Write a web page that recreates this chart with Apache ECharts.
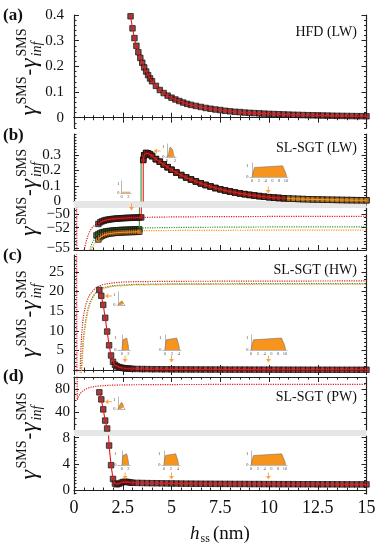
<!DOCTYPE html>
<html><head><meta charset="utf-8">
<script src="https://cdn.jsdelivr.net/npm/echarts@6/dist/echarts.min.js"></script>
<style>html,body{margin:0;padding:0;background:#fff}#c{width:377px;height:550px}</style>
</head><body><div id="c"></div>
<script>
// ================= DATA =================
// x axis
const xTicks = [0, 2.5, 5, 7.5, 10, 12.5, 15];
// y tick labels per segment
const ticksA  = [0, 0.1, 0.2, 0.3, 0.4];
const ticksBu = [0, 0.1, 0.2, 0.3];
const ticksBl = [-50, -52, -55];
const ticksC  = [0, 5, 10, 15, 20, 25];
const ticksDu = [40, 80];
const ticksDl = [0, 4, 8];

// (a) HFD (LW)
const hA = [2.8,2.9,3.0,3.1,3.2,3.3,3.4,3.5,3.6,3.7,3.8,3.9,4.0,4.2,4.4,4.6,4.8,5.0,5.2,5.4,5.6,5.8,6.0,
  6.25,6.5,6.75,7.0,7.25,7.5,7.75,8.0,8.25,8.5,8.75,9.0,9.25,9.5,9.75,10.0,10.25,10.5,10.75,11.0,11.25,11.5,11.75,12.0,12.25,12.5,12.75,13.0,13.25,13.5,13.75,14.0,14.25,14.5,14.75,15.0];
const gA = [0.44,0.395,0.348,0.31,0.28,0.255,0.233,0.214,0.196,0.180,0.166,0.153,0.142,0.124,0.108,0.096,0.086,0.078,0.071,0.065,0.059,0.054,0.050,
  0.046,0.042,0.038,0.035,0.032,0.030,0.027,0.025,0.023,0.022,0.020,0.019,0.018,0.017,0.016,0.015,0.0143,0.0136,0.0128,0.0121,0.0115,0.011,0.0104,0.0099,0.0094,0.009,0.0086,0.0082,0.0078,0.0074,0.0071,0.0068,0.0065,0.0062,0.006,0.0057];

// (b) SL-SGT (LW): lower branches
const hBr = [1.25,1.35,1.45,1.55,1.65,1.75,1.85,1.95,2.05,2.15,2.25,2.35,2.45,2.55,2.65,2.75,2.85,2.95,3.05,3.15,3.25,3.35,3.45];
const gBr = [-51.45,-51.2,-51.05,-50.95,-50.87,-50.82,-50.77,-50.73,-50.7,-50.67,-50.65,-50.63,-50.61,-50.59,-50.58,-50.56,-50.55,-50.54,-50.53,-50.52,-50.51,-50.5,-50.49];
const hBg = [1.15,1.25,1.35,1.45,1.55,1.65,1.75,1.85,1.95,2.05,2.15,2.25,2.35,2.45,2.55,2.65,2.75,2.85,2.95,3.05,3.15,3.25,3.35];
const gBg = [-53.15,-52.95,-52.8,-52.7,-52.62,-52.56,-52.52,-52.48,-52.45,-52.42,-52.4,-52.38,-52.36,-52.34,-52.33,-52.32,-52.31,-52.3,-52.29,-52.28,-52.27,-52.26,-52.25];
const hBo = [1.25,1.35,1.45,1.55,1.65,1.75,1.85,1.95,2.05,2.15,2.25,2.35,2.45,2.55,2.65,2.75,2.85,2.95,3.05,3.15,3.25,3.35];
const gBo = [-53.75,-53.4,-53.2,-53.07,-52.98,-52.91,-52.86,-52.82,-52.79,-52.76,-52.74,-52.72,-52.7,-52.68,-52.67,-52.66,-52.65,-52.64,-52.63,-52.62,-52.61,-52.6];
// jumps between branches
const jumpRh = [3.55], jumpRg = [-50.48];
const jumpGh = [3.44, 3.44], jumpGg = [-52.25, 0.265];
// (b) upper branch (shared)
const hBu = [3.55,3.6,3.7,3.8,3.9,4.0,4.2,4.4,4.6,4.8,5.0,5.25,5.5,5.75,6.0,6.25,6.5,6.75,7.0,7.25,7.5,7.75,8.0,8.25,8.5,8.75,9.0,9.25,9.5,9.75,10.0,10.25,10.5,10.75,
  11.0,11.25,11.5,11.75,12.0,12.25,12.5,12.75,13.0,13.25,13.5,13.75,14.0,14.25,14.5,14.75,15.0];
const gBu = [0.27,0.30,0.315,0.312,0.305,0.295,0.275,0.258,0.24,0.222,0.205,0.187,0.17,0.155,0.141,0.128,0.116,0.105,0.095,0.085,0.077,0.069,0.062,0.056,0.05,0.045,0.04,0.036,0.032,0.028,0.025,0.022,0.02,0.018,
  0.016,0.0148,0.0136,0.0125,0.0115,0.0106,0.0098,0.009,0.0083,0.0077,0.0071,0.0066,0.0061,0.0057,0.0053,0.005,0.0047];
const redUpperEnd = 10.75;
// (b) dotted curves
const hBrd = [0.13,0.15,0.45,0.5,0.6,0.7,0.8,0.9,1.0,1.2,1.4,1.7,2.0,2.5,3.0,3.5,4.0,5.0,7.0,10.0,15.0];
const gBrd = [-40,-62,-58,-55.6,-54.3,-53.3,-52.6,-52.1,-51.8,-51.4,-51.15,-50.92,-50.78,-50.64,-50.55,-50.5,-50.46,-50.42,-50.38,-50.35,-50.32];
const hBgd = [0.7,0.8,0.9,1.0,1.2,1.4,1.7,2.0,2.5,3.0,3.5,5.0,7.5,10.0,15.0];
const gBgd = [-57,-55.5,-54.5,-53.9,-53.2,-52.85,-52.55,-52.35,-52.2,-52.1,-52.05,-51.98,-51.93,-51.9,-51.87];
const hBod = [0.75,0.85,1.0,1.2,1.4,1.7,2.0,2.5,3.0,3.5,5.0,10.0,15.0];
const gBod = [-57,-55.6,-54.6,-53.8,-53.35,-53.0,-52.8,-52.65,-52.55,-52.45,-52.42,-52.37,-52.35];

// (c) SL-SGT (HW)
const hC = [1.3,1.4,1.5,1.6,1.7,1.8,1.9,2.0,2.1,2.2,2.3,2.4,2.5,2.6,2.7,2.8,2.9,3.0,
  3.25,3.5,3.75,4.0,4.25,4.5,4.75,5.0,5.25,5.5,5.75,6.0,6.25,6.5,6.75,7.0,7.25,7.5,7.75,8.0,8.25,8.5,8.75,9.0,9.25,9.5,9.75,10.0,
  10.25,10.5,10.75,11.0,11.25,11.5,11.75,12.0,12.25,12.5,12.75,13.0,13.25,13.5,13.75,14.0,14.25,14.5,14.75,15.0];
const gC = [20.4,18.9,16.6,13.3,9.8,6.3,3.7,2.1,1.35,0.95,0.75,0.62,0.52,0.45,0.4,0.36,0.33,0.3,
  0.27,0.25,0.23,0.21,0.2,0.19,0.18,0.17,0.16,0.155,0.15,0.145,0.14,0.135,0.13,0.125,0.12,0.118,0.115,0.112,0.11,0.107,0.105,0.103,0.1,0.098,0.096,0.094,
  0.092,0.09,0.088,0.087,0.085,0.084,0.082,0.081,0.08,0.078,0.077,0.076,0.075,0.074,0.073,0.072,0.071,0.07,0.069,0.068];
const hCrd = [0.13,0.15,0.3,0.33,0.36,0.4,0.45,0.5,0.6,0.7,0.8,1.0,1.2,1.5,2.0,2.5,3.0,5.0,10.0,15.0];
const gCrd = [40,-3,-3,2,6,9.5,12.3,14.2,16.5,18.0,19.1,20.4,21.2,21.8,22.2,22.4,22.5,22.6,22.65,22.7];
const hCgd = [0.35,0.4,0.45,0.5,0.6,0.7,0.8,1.0,1.2,1.5,2.0,3.0,5.0,10.0,15.0];
const gCgd = [-2,2,6,9,12.8,15.3,17,19,20.2,21,21.5,21.8,21.95,22.0,22.0];
const hCod = [0.37,0.42,0.47,0.52,0.62,0.72,0.82,1.0,1.2,1.5,2.0,3.0,5.0,10.0,15.0];
const gCod = [-2,2,6,9,12.6,15.1,16.8,18.8,20.0,20.8,21.3,21.65,21.8,21.85,21.85];

// (d) SL-SGT (PW)
const hD = [1.3,1.4,1.5,1.6,1.7,1.8,1.9,2.0,2.1,2.2,2.3,2.4,2.5,2.6,2.7,2.8,2.9,3.0,
  3.25,3.5,3.75,4.0,4.25,4.5,4.75,5.0,5.25,5.5,5.75,6.0,6.25,6.5,6.75,7.0,7.25,7.5,7.75,8.0,8.25,8.5,8.75,9.0,9.25,9.5,9.75,10.0,
  10.25,10.5,10.75,11.0,11.25,11.5,11.75,12.0,12.25,12.5,12.75,13.0,13.25,13.5,13.75,14.0,14.25,14.5,14.75,15.0];
const gD = [74,62,45,26,12.5,6.8,3.8,1.7,1.0,0.88,0.95,1.1,1.22,1.27,1.25,1.2,1.15,1.12,
  1.1,1.08,1.06,1.05,1.04,1.03,1.02,1.01,1.0,0.99,0.98,0.98,0.97,0.97,0.96,0.96,0.95,0.95,0.94,0.94,0.93,0.93,0.93,0.92,0.92,0.92,0.91,0.91,
  0.91,0.9,0.9,0.9,0.9,0.89,0.89,0.89,0.89,0.88,0.88,0.88,0.88,0.88,0.87,0.87,0.87,0.87,0.87,0.87];
const hDrd = [0.15,0.17,0.22,0.3,0.4,0.55,0.7,0.9,1.2,1.6,2.0,3.0,5.0,10.0,15.0];
const gDrd = [130,61,66,71,75,78.5,81,83,84.5,85.5,86.2,86.8,87.2,87.5,87.6];

// orange arrows (h, value) per panel
const arrowsBdown = [[2.95, -48.95]];
const arrowsBupDown = [[9.96, 0.072]];
const arrowsBleft = [[4.26, 0.329]];
const arrowsCleft = [[1.76, 18.86]];
const arrowsCdown = [[2.62, 2.81], [5.0, 2.81], [9.97, 2.81]];
const arrowsDleft = [[1.76, 58]];
const arrowsDdown = [[2.62, 2.15], [5.0, 2.15], [9.97, 2.15]];

// inset profiles
const flatX = [0, 2.6], flatY = [0.08, 0.08];
const bellX = [0,0.2,0.4,0.6,0.8,1.0,1.2,1.4,1.6,1.8,2.0];
const bellBigY = [0,0.04,0.25,0.7,0.97,1.0,0.97,0.7,0.25,0.04,0];
const bellSmallY = [0,0.02,0.1,0.28,0.39,0.4,0.39,0.28,0.1,0.02,0];
const bellMidY = [0,0.03,0.17,0.49,0.68,0.7,0.68,0.49,0.17,0.03,0];
const trap2X = [0,0.15,0.35,0.6,1.5,1.75,1.95,2.1];
const trap4X = [0,0.2,0.45,0.8,3.4,3.75,4.0,4.2];
const trap10X = [0,0.3,0.7,1.2,9.0,9.5,9.9,10.2];
const trapY = [0,0.4,0.85,1,1,0.85,0.4,0];
const insetTicks2 = [0, 2], insetTicks4 = [0, 2, 4], insetTicks10 = [0, 2, 4, 6, 8, 10];

// ================= STYLE / LAYOUT =================
const RED = '#e3191c', GREEN = '#2a9a2e', ORANGE = '#f7941d';
const MK = {}; MK[RED] = '#7a1818'; MK[GREEN] = '#1f5a24'; MK[ORANGE] = '#c9761a';
const FF = 'Liberation Serif';
const FONT = '"Liberation Serif", serif';
const L = 74, RIGHT = 10.5, PLOT_R = 377 - RIGHT;

// 'split' puts every second label on a second (overlaid) axis so close labels are not auto-hidden
const GRID_DEFS = [
  {top: 15,  height: 113, ymin: -0.04, ymax: 0.4,  major: ticksA,  minor: 0.02, lm: 10, topAx: true,  botAx: true},
  {top: 134, height: 67,  ymin: 0,     ymax: 0.44, major: ticksBu, minor: 0.02, lm: 13, topAx: true,  botAx: false},
  {top: 208, height: 42,  ymin: -55.3, ymax: -49.1, major: ticksBl, minor: 0.5, lm: 4,  topAx: false, botAx: true, split: true},
  {top: 255, height: 117, ymin: -0.5,  ymax: 29.3, major: ticksC,  minor: 1,    lm: 10, topAx: true,  botAx: true},
  {top: 377, height: 53,  ymin: 10,    ymax: 100,  major: ticksDu, minor: 10,   lm: 4,  topAx: true,  botAx: false},
  {top: 436, height: 58,  ymin: -0.6,  ymax: 8.26, major: ticksDl, minor: 0.5,  lm: 4,  topAx: false, botAx: true, labelsX: true}
];

function seq(a, b, s) { const r = []; const n = Math.round((b - a) / s); for (let i = 0; i <= n; i++) r.push(+(a + i * s).toFixed(6)); return r; }
function minorVals(min, max, s) { return seq(Math.ceil(min / s - 1e-9) * s, Math.floor(max / s + 1e-9) * s, s); }
function fmt(v) { return v < 0 ? '\u2212' + Math.abs(v) : String(v); }
function zip(xs, ys) { return xs.map((x, i) => [x, ys[i]]); }

const grid = [], xAxis = [], yAxis = [], series = [], graphic = [];
const AX = [];
const LC = '#222';

GRID_DEFS.forEach((d, i) => {
  grid.push({left: L, right: RIGHT, top: d.top, height: d.height, containLabel: false, outerBoundsMode: 'none'});
  const xi = xAxis.length;
  xAxis.push({type: 'value', gridIndex: i, min: 0, max: 15, interval: 2.5, position: 'bottom',
    axisLine: {show: d.botAx, lineStyle: {color: LC, width: 1.2}},
    axisTick: {show: d.botAx, inside: true, length: 5, lineStyle: {color: LC}},
    minorTick: {show: d.botAx, splitNumber: 5, length: 2.5, lineStyle: {color: LC}},
    axisLabel: {show: !!d.labelsX, margin: 5, fontFamily: FF, fontSize: 18, color: '#111', hideOverlap: false,
      showMinLabel: true, showMaxLabel: true, formatter: v => String(v)},
    splitLine: {show: false}, minorSplitLine: {show: false}});
  if (d.topAx) xAxis.push({type: 'value', gridIndex: i, min: 0, max: 15, interval: 2.5, position: 'top',
    axisLine: {show: true, lineStyle: {color: LC, width: 1.2}},
    axisTick: {show: true, inside: true, length: 5, lineStyle: {color: LC}},
    minorTick: {show: true, splitNumber: 5, length: 2.5, lineStyle: {color: LC}},
    axisLabel: {show: false}, splitLine: {show: false}});
  const yi = yAxis.length;
  const minors = minorVals(d.ymin, d.ymax, d.minor);
  const lab1 = d.split ? d.major.filter((v, k) => k % 2 === 0) : d.major;
  const lab2 = d.split ? d.major.filter((v, k) => k % 2 === 1) : [];
  const labStyle = {formatter: fmt, margin: d.lm, fontFamily: FF, fontSize: 15, color: '#111', hideOverlap: false, showMinLabel: true, showMaxLabel: true};
  ['left', 'right'].forEach(pos => {
    yAxis.push({type: 'value', gridIndex: i, min: d.ymin, max: d.ymax, position: pos,
      axisLine: {show: true, lineStyle: {color: LC, width: 1.2}},
      axisTick: {show: true, inside: true, length: 5, customValues: d.major, lineStyle: {color: LC}},
      axisLabel: Object.assign({show: pos === 'left', customValues: lab1}, labStyle),
      splitLine: {show: false}});
    yAxis.push({type: 'value', gridIndex: i, min: d.ymin, max: d.ymax, position: pos,
      axisLine: {show: false},
      axisTick: {show: true, inside: true, length: 2.5, customValues: minors, lineStyle: {color: LC}},
      axisLabel: Object.assign({show: pos === 'left' && lab2.length > 0, customValues: lab2.length ? lab2 : [d.ymin]}, labStyle),
      splitLine: {show: false}});
  });
  AX.push({x: xi, y: yi});
});

let zc = 3;
function addLine(gi, data, color, dotted, width) {
  series.push({type: 'line', xAxisIndex: AX[gi].x, yAxisIndex: AX[gi].y, data: data, showSymbol: false, symbol: 'none',
    lineStyle: {color: color, width: width || (dotted ? 1.2 : 1.1), type: dotted ? 'dotted' : 'solid'},
    clip: true, silent: true, animation: false, z: zc++});
}
function addMarks(gi, data, color) {
  series.push({type: 'scatter', xAxisIndex: AX[gi].x, yAxisIndex: AX[gi].y, data: data, symbol: 'rect', symbolSize: 5.5,
    itemStyle: {color: MK[color], borderColor: 'rgba(20,20,20,0.9)', borderWidth: 1},
    clip: true, silent: true, animation: false, z: zc++});
}
function addMarked(gis, data, color, markData) {
  gis.forEach(g => { addMarks(g, markData || data, color); addLine(g, data, color, false); });
}
const ARROW = 'path://M4,0 L6,0 L6,6 L10,6 L5,12 L0,6 L4,6 Z';
function addArrows(gi, data, rot) {
  series.push({type: 'scatter', xAxisIndex: AX[gi].x, yAxisIndex: AX[gi].y, data: data, symbol: ARROW, symbolSize: [5, 7],
    symbolRotate: rot, itemStyle: {color: ORANGE}, clip: false, silent: true, animation: false, z: 40});
}

// (a)
addMarked([0], zip(hA, gA), RED);

// (b)
const gisB = [1, 2];
gisB.forEach(g => {
  addLine(g, zip(hBrd, gBrd), RED, true);
  addLine(g, zip(hBgd, gBgd), GREEN, true);
  addLine(g, zip(hBod, gBod), ORANGE, true);
});
const upperAll = zip(hBu, gBu);
const upperRed = upperAll.filter(p => p[0] <= redUpperEnd);
const greenAll = zip(hBg, gBg).concat(zip(jumpGh, jumpGg), upperAll);
const redAll = zip(hBr, gBr).concat(zip(jumpRh, jumpRg), upperRed);
addMarked(gisB, greenAll, GREEN, zip(hBg, gBg).concat(upperAll));
addMarked(gisB, zip(hBo, gBo), ORANGE);
addMarked(gisB, upperAll, ORANGE);
addMarked(gisB, redAll, RED, zip(hBr, gBr).concat(upperRed));

// (c)
addLine(3, zip(hCrd, gCrd), RED, true);
addLine(3, zip(hCgd, gCgd), GREEN, true);
addLine(3, zip(hCod, gCod), ORANGE, true);
addMarked([3], zip(hC, gC), RED);

// (d)
[4, 5].forEach(g => addLine(g, zip(hDrd, gDrd), RED, true));
addMarked([4, 5], zip(hD, gD), RED);

// arrows (down symbol; -90 rotates to point left)
addArrows(2, arrowsBdown, 0);
addArrows(1, arrowsBupDown, 0);
addArrows(1, arrowsBleft, -90);
addArrows(3, arrowsCleft, -90);
addArrows(3, arrowsCdown, 0);
addArrows(4, arrowsDleft, -90);
addArrows(5, arrowsDdown, 0);

// insets: small grids
const INSETS = [
  {l: 121, t: 181, w: 10, h: 12, x0: -0.2, x1: 2.8,  xl: insetTicks2,  px: flatX,   py: flatY, area: false},
  {l: 166, t: 144, w: 10, h: 13, x0: -0.2, x1: 2.2,  xl: insetTicks2,  px: bellX,   py: bellBigY, area: true},
  {l: 250, t: 163, w: 38, h: 14, x0: -0.6, x1: 10.6, xl: insetTicks10, px: trap10X, py: trapY, area: true},
  {l: 117, t: 292, w: 8,  h: 13, x0: -0.3, x1: 2.0,  xl: [],           px: bellX,   py: bellSmallY, area: true},
  {l: 118, t: 335, w: 12, h: 15, x0: -1.2, x1: 2.5,  xl: insetTicks2,  px: trap2X,  py: trapY, area: true},
  {l: 163, t: 335, w: 18, h: 15, x0: -0.5, x1: 4.6,  xl: insetTicks4,  px: trap4X,  py: trapY, area: true},
  {l: 250, t: 335, w: 37, h: 15, x0: -0.3, x1: 10.6, xl: insetTicks10, px: trap10X, py: trapY, area: true},
  {l: 117, t: 397, w: 8,  h: 12, x0: -0.3, x1: 2.0,  xl: [],           px: bellX,   py: bellMidY, area: true},
  {l: 118, t: 451, w: 12, h: 14, x0: -1.2, x1: 2.5,  xl: insetTicks2,  px: trap2X,  py: trapY, area: true},
  {l: 162, t: 451, w: 18, h: 14, x0: -0.5, x1: 4.6,  xl: insetTicks4,  px: trap4X,  py: trapY, area: true},
  {l: 250, t: 451, w: 37, h: 14, x0: -0.3, x1: 10.6, xl: insetTicks10, px: trap10X, py: trapY, area: true}
];
INSETS.forEach(s => {
  const gi = grid.length;
  grid.push({left: s.l, top: s.t, width: s.w, height: s.h, containLabel: false, outerBoundsMode: 'none'});
  const xi = xAxis.length, yi = yAxis.length;
  xAxis.push({type: 'value', gridIndex: gi, min: s.x0, max: s.x1, axisLine: {show: true, lineStyle: {color: '#888', width: 0.6}},
    axisTick: {show: false}, splitLine: {show: false},
    axisLabel: {show: s.xl.length > 0, customValues: s.xl, fontSize: 4.5, margin: 1.5, color: '#555', fontFamily: FF, hideOverlap: false}});
  yAxis.push({type: 'value', gridIndex: gi, min: 0, max: 1.25, axisLine: {show: true, lineStyle: {color: '#888', width: 0.6}},
    axisTick: {show: false}, splitLine: {show: false},
    axisLabel: {show: true, customValues: [0, 1], fontSize: 5, margin: 1.5, color: '#555', fontFamily: FF, hideOverlap: false}});
  series.push({type: 'line', xAxisIndex: xi, yAxisIndex: yi, data: zip(s.px, s.py), showSymbol: false, symbol: 'none',
    lineStyle: {color: s.area ? '#666' : ORANGE, width: s.area ? 0.5 : 1},
    areaStyle: s.area ? {color: ORANGE, opacity: 1} : undefined, silent: true, animation: false, z: 30});
});

// gray break bands
[[201, 208], [430, 436]].forEach(b => graphic.push({type: 'rect', shape: {x: L, y: b[0], width: PLOT_R - L, height: b[1] - b[0]},
  style: {fill: '#e6e6e6'}, z: 1, silent: true}));

// panel letters
[['(a)', 15.5], ['(b)', 136], ['(c)', 256], ['(d)', 377]].forEach(p => graphic.push({type: 'text', x: 3, y: p[1], z: 50,
  style: {text: p[0], font: 'bold 17px ' + FONT, fill: '#111', verticalAlign: 'middle', align: 'left'}}));
// method labels
[['HFD (LW)', 32], ['SL-SGT (LW)', 148], ['SL-SGT (HW)', 270], ['SL-SGT (PW)', 397]].forEach(p => graphic.push({type: 'text', x: 357, y: p[1], z: 50,
  style: {text: p[0], font: '14px ' + FONT, fill: '#111', verticalAlign: 'middle', align: 'right'}}));

// y titles
function yTitle(cy) {
  const b = {fill: '#111', verticalAlign: 'middle', align: 'left'};
  return {type: 'group', x: 30, y: cy, rotation: Math.PI / 2, z: 50, children: [
    {type: 'text', x: -44, y: 0, style: Object.assign({text: '\u03b3', font: 'italic 24px ' + FONT}, b)},
    {type: 'text', x: -33, y: -8, style: Object.assign({text: 'SMS', font: '14px ' + FONT}, b)},
    {type: 'text', x: -4, y: 0, style: Object.assign({text: '-', font: '20px ' + FONT}, b)},
    {type: 'text', x: 3.5, y: 0, style: Object.assign({text: '\u03b3', font: 'italic 24px ' + FONT}, b)},
    {type: 'text', x: 15, y: -8, style: Object.assign({text: 'SMS', font: '14px ' + FONT}, b)},
    {type: 'text', x: 15, y: 7, style: Object.assign({text: 'inf', font: 'italic 14px ' + FONT}, b)}
  ]};
}
[71.5, 192, 313.5, 435.5].forEach(cy => graphic.push(yTitle(cy)));

// x title
graphic.push({type: 'text', x: 190, y: 534, z: 50, style: {text: 'h', font: 'italic 19px ' + FONT, fill: '#111', verticalAlign: 'middle'}});
graphic.push({type: 'text', x: 200.5, y: 539, z: 50, style: {text: 'ss', font: '12px ' + FONT, fill: '#111', verticalAlign: 'middle'}});
graphic.push({type: 'text', x: 213, y: 534, z: 50, style: {text: '(nm)', font: '19px ' + FONT, fill: '#111', verticalAlign: 'middle'}});

const chart = echarts.init(document.getElementById('c'), null, {renderer: 'canvas'});
chart.setOption({animation: false, backgroundColor: '#fff', textStyle: {fontFamily: FF},
  grid: grid, xAxis: xAxis, yAxis: yAxis, series: series, graphic: graphic});
</script>
</body></html>
